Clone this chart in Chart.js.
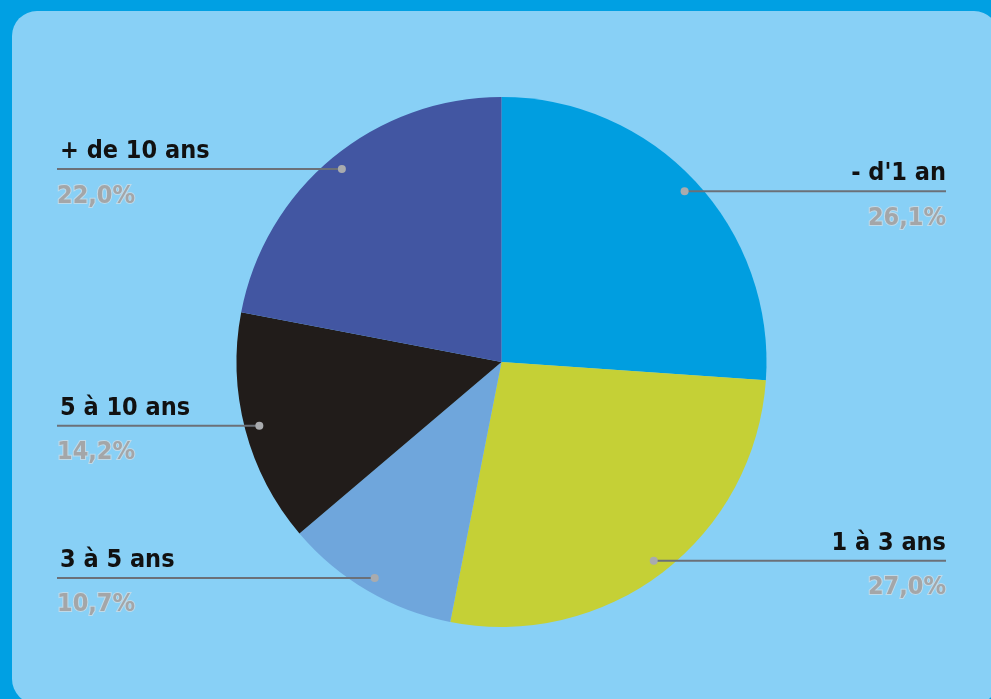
<!DOCTYPE html>
<html>
<head>
<meta charset="utf-8">
<script src="https://cdn.jsdelivr.net/npm/chart.js@4/dist/chart.umd.min.js"></script>
<style>
  html, body { margin: 0; padding: 0; background: #00a0e3; }
  #wrap { width: 991px; height: 699px; }
</style>
</head>
<body>
<div id="wrap"><canvas id="pie"></canvas></div>
<script>
const categories = ["- d'1 an", '1 à 3 ans', '3 à 5 ans', '5 à 10 ans', '+ de 10 ans'];
const shares = [26.1, 27.0, 10.7, 14.2, 22.0];
const sliceColors = ['#009ee0', '#c5d036', '#6fa6dc', '#211c1a', '#4256a2'];

// which side of the pie each label sits on
const labelSide = ['right', 'right', 'left', 'left', 'left'];

const fmtPct = (v) => v.toFixed(1).replace('.', ',') + '%';

// blue frame with a rounded light panel behind the pie
const panelBg = {
  id: 'panelBg',
  beforeDraw(chart) {
    const { ctx, width, height } = chart;
    ctx.save();
    ctx.fillStyle = '#00a0e3';
    ctx.fillRect(0, 0, width, height);
    ctx.fillStyle = '#88d0f6';
    ctx.beginPath();
    ctx.roundRect(12, 11, 987, 693, 25);
    ctx.fill();
    ctx.restore();
  }
};

// leader lines from each slice out to its label
const leaders = {
  id: 'leaders',
  afterDatasetsDraw(chart) {
    const { ctx } = chart;
    const meta = chart.getDatasetMeta(0);
    const leftX = 57, rightX = 946;
    ctx.save();
    meta.data.forEach((arc, i) => {
      const { x, y, startAngle, endAngle, outerRadius } = arc.getProps(['x', 'y', 'startAngle', 'endAngle', 'outerRadius'], true);
      const mid = (startAngle + endAngle) / 2;
      const dx = x + Math.cos(mid) * outerRadius * 0.945;
      const dy = y + Math.sin(mid) * outerRadius * 0.945;
      const right = labelSide[i] === 'right';
      const endX = right ? rightX : leftX;

      ctx.strokeStyle = '#6b7078';
      ctx.lineWidth = 2;
      ctx.beginPath();
      ctx.moveTo(dx, dy);
      ctx.lineTo(endX, dy);
      ctx.stroke();

      ctx.fillStyle = '#a9abae';
      ctx.beginPath();
      ctx.arc(dx, dy, 4, 0, Math.PI * 2);
      ctx.fill();

      ctx.textAlign = right ? 'right' : 'left';
      ctx.textBaseline = 'alphabetic';
      ctx.font = 'bold 25px "Liberation Sans Narrow", "DejaVu Sans Condensed", sans-serif';
      ctx.fillStyle = '#111111';
      ctx.fillText(categories[i], endX + (right ? 0 : 3), dy - 11);

      ctx.textBaseline = 'middle';
      ctx.lineWidth = 2;
      ctx.strokeStyle = 'rgba(215,222,228,0.7)';
      ctx.strokeText(fmtPct(shares[i]), endX, dy + 27);
      ctx.fillStyle = '#a4a6a8';
      ctx.fillText(fmtPct(shares[i]), endX, dy + 27);
    });
    ctx.restore();
  }
};

new Chart(document.getElementById('pie'), {
  type: 'pie',
  data: {
    labels: categories,
    datasets: [{
      data: shares,
      backgroundColor: sliceColors,
      borderWidth: 0
    }]
  },
  options: {
    responsive: true,
    maintainAspectRatio: false,
    animation: false,
    layout: { padding: { top: 97, bottom: 72, left: 236, right: 224 } },
    plugins: {
      legend: { display: false },
      tooltip: { enabled: false }
    }
  },
  plugins: [panelBg, leaders]
});
</script>
</body>
</html>
